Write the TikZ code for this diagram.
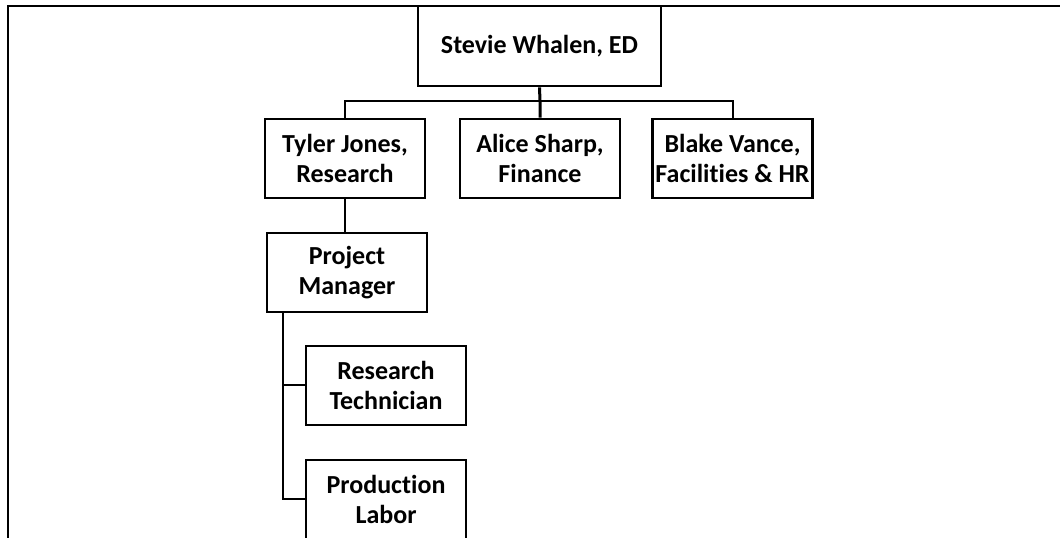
\documentclass[tikz,border=0pt]{standalone}
\usepackage{fontspec}
\setmainfont{Carlito}[Ligatures=NoCommon]
\begin{document}
\begin{tikzpicture}[x=1pt,y=1pt,
  orgbox/.style={draw=black, line width=2.8pt, fill=white, inner sep=0pt,
    minimum width=160pt, minimum height=79pt, align=center,
    font=\fontsize{26}{29.5}\selectfont\bfseries},
  link/.style={draw=black, line width=2pt},
  frameline/.style={draw=black, line width=2.2pt}]
\useasboundingbox (0,0) rectangle (1060,538);
% frame
\coordinate (fbl) at (8,0);
\coordinate (ftl) at (8,532);
\coordinate (ftr) at (1060,532);
\draw[frameline] (fbl) -- (ftl) -- (ftr);
% nodes
\node[orgbox, minimum width=243pt, minimum height=80pt] (ed) at (539.5,492) {Stevie Whalen, ED};
\node[orgbox] (tyler) at (345,379.5) {Tyler Jones,\\Research};
\node[orgbox] (alice) at (540,379.5) {Alice Sharp,\\Finance};
\node[orgbox] (blake) at (732.5,379.5) {Blake Vance,\\Facilities \& HR};
\node[orgbox] (pm) at (347,265.5) {Project\\Manager};
\node[orgbox] (rt) at (386,152.5) {Research\\Technician};
\node[orgbox] (pl) at (386,38.5) {Production\\Labor};
% connectors
\coordinate (bus) at (540,437);
\draw[link, line width=3pt] (ed.south) -- (bus) -- (alice.north);
\draw[link] (tyler.north) |- (bus) -| (blake.north);
\draw[link] (tyler.south) -- (tyler.south |- pm.north);
\coordinate (pmdrop) at (283,0);
\draw[link] (pm.south -| pmdrop) |- (rt.west);
\draw[link] (pm.south -| pmdrop) |- (pl.west);
\end{tikzpicture}
\end{document}
